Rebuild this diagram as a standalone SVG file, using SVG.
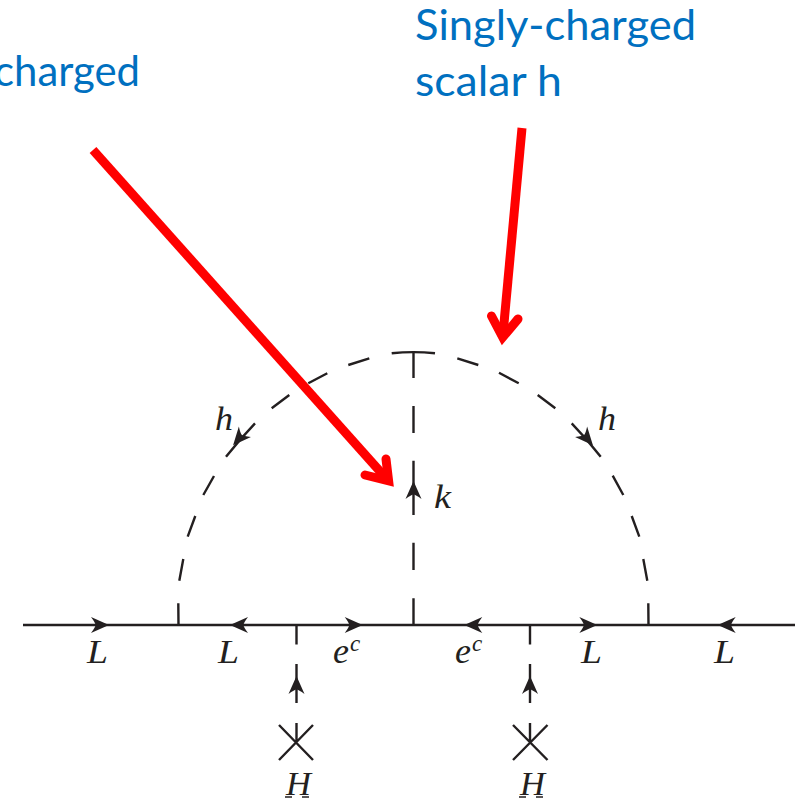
<svg xmlns="http://www.w3.org/2000/svg" width="795" height="803" viewBox="0 0 795 803">
<style>
.ln{fill:none;stroke:#231f20;stroke-width:2.4}
.ah{fill:#231f20;stroke:none}
.m{font-family:"Liberation Serif",serif;font-style:italic;fill:#231f20;font-size:33px}
.e{font-size:36px}
.s{font-size:23px}
.t{font-size:34px}
.b{font-family:Lato,"Open Sans",sans-serif;fill:#0070c0;font-size:42px}
.r{fill:none;stroke:#ff0000;stroke-width:9}
.rh{fill:none;stroke:#ff0000;stroke-width:9;stroke-linecap:round;stroke-linejoin:miter;stroke-miterlimit:10}
</style>
<defs>
<path id="a" d="M9,0 L-9,-8 Q-4.5,-2 -4.5,0 Q-4.5,2 -9,8 Z"/>
</defs>
<rect width="795" height="803" fill="#ffffff"/>
<g id="connectors">
<path class="ln" d="M23,625H795"/>
<path class="ln" d="M391.7,353.3A235,274 0 0 1 435,353.3M348.3,365L369.3,358.3M308.3,383.3L327.3,373.3M271.7,408.3L289.3,395M226,456.7Q240,439 255,423.3M203.3,495L214,476M187.7,536.7L195.3,516M179.3,580.7L183.3,559M178.3,603.3L178.5,625"/>
<path class="ln" d="M457.3,358.3L478.3,365M499,372.7L518.7,383.3M537.7,395L555.3,408.3M571.7,423.3Q587,439 600.7,456.7M612.7,475.7L623.3,495M631.7,516L639.3,536.7M643.3,559L647.3,580.7M648.3,603.3L648.5,625"/>
<path class="ln" d="M413.5,351V378M413.5,406V433M413.5,460.7V515M413.5,542.7V570M413.5,598.3V625"/>
<path class="ln" d="M296.5,625V644.5M296.5,664V703M530,625V644.5M530,664V703"/>
<g class="ah">
<use href="#a" transform="translate(100,625)"/>
<use href="#a" transform="translate(239,625) rotate(180)"/>
<use href="#a" transform="translate(353.7,625)"/>
<use href="#a" transform="translate(473.3,625) rotate(180)"/>
<use href="#a" transform="translate(588.3,625)"/>
<use href="#a" transform="translate(726.7,625) rotate(180)"/>
<use href="#a" transform="translate(296.5,685) rotate(-90)"/>
<use href="#a" transform="translate(530,685) rotate(-90)"/>
<use href="#a" transform="translate(413.5,490) rotate(-90)"/>
<use href="#a" transform="translate(239,438.5) rotate(131)"/>
<use href="#a" transform="translate(587,438.5) rotate(49)"/>
</g>
</g>
<g id="insertion-left"><path class="ln" d="M279,725L313,760M313,725L279,760M296.5,723V742.5"/></g>
<g id="insertion-right"><path class="ln" d="M513,725L547.5,760M547.5,725L513,760M530,723V742.5"/></g>
<g id="labels">
<text class="m" x="87" y="663" textLength="21" lengthAdjust="spacingAndGlyphs">L</text>
<text class="m" x="218" y="663" textLength="21" lengthAdjust="spacingAndGlyphs">L</text>
<text class="m e" x="333" y="663">e</text><text class="m s" x="350" y="651">c</text>
<text class="m e" x="455" y="663">e</text><text class="m s" x="472" y="651">c</text>
<text class="m" x="581" y="663" textLength="21" lengthAdjust="spacingAndGlyphs">L</text>
<text class="m" x="714" y="663" textLength="21" lengthAdjust="spacingAndGlyphs">L</text>
<text class="m t" x="215" y="430" textLength="18" lengthAdjust="spacingAndGlyphs">h</text>
<text class="m t" x="598" y="430" textLength="18" lengthAdjust="spacingAndGlyphs">h</text>
<text class="m t" x="434" y="508" textLength="17" lengthAdjust="spacingAndGlyphs">k</text>
<text class="m" x="286" y="795" textLength="25" lengthAdjust="spacingAndGlyphs">H</text>
<text class="m" x="520" y="795" textLength="25" lengthAdjust="spacingAndGlyphs">H</text>
<path class="ln" style="stroke-width:1.6" d="M285,797H292M302,797H309M519,797H526M536,797H543"/>
</g>
<g id="callout-k">
<text class="b" x="-6" y="86" textLength="146" lengthAdjust="spacingAndGlyphs">charged</text>
<path class="r" d="M93,150L388.6,480.9"/>
<path class="rh" d="M386,459L388.6,480.9L365,475"/>
</g>
<g id="callout-h">
<text class="b" x="415" y="40" textLength="281" lengthAdjust="spacingAndGlyphs">Singly-charged</text>
<text class="b" x="415" y="96" textLength="147" lengthAdjust="spacingAndGlyphs">scalar h</text>
<path class="r" d="M522,128L502.7,337.3"/>
<path class="rh" d="M491.5,316L502.7,337.3L518,319"/>
</g>
</svg>
